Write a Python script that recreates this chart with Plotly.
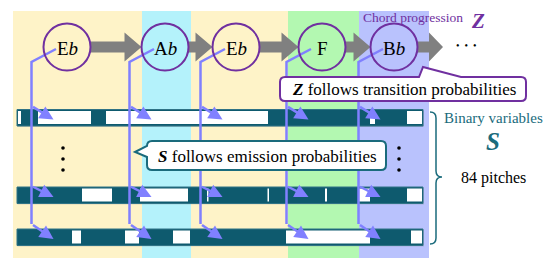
import plotly.graph_objects as go

# ---------------- data ----------------
chords = ["E<i>b</i>", "A<i>b</i>", "E<i>b</i>", "F", "B<i>b</i>"]
chord_x = [67, 165, 236, 322, 394]          # time position of each chord node
segment_edges = [13, 142, 191, 288, 359, 429]  # chord segment boundaries (time)
segment_colors = ["#fef3c8", "#b4f2fb", "#fef3c8", "#b3f8b1", "#b9c2fd"]
row_labels = ["pitch 1", "pitch k", "pitch 84"]
row_y = [117.5, 195, 237]
bar_start, bar_end = 17, 423
row_white = [
    [(18, 21), (38, 91), (106, 268), (370, 375), (407, 422)],
    [(82, 112), (140, 188), (207, 208.5), (267.5, 269), (325, 327), (359, 370), (407, 422)],
    [(72, 81), (125, 139), (173, 190), (286, 370), (411, 422)],
]

PURPLE = "#7030a0"
TEAL = "#0e5a6e"
TEAL_T = "#1a6b7c"
BLUE = "#8080ff"
GRAY = "#808080"
SERIF = "Liberation Serif"

fig = go.Figure()
shapes = []
ann = []

# background segments
for i, col in enumerate(segment_colors):
    shapes.append(dict(type="rect", x0=segment_edges[i], x1=segment_edges[i + 1], y0=11, y1=258,
                       fillcolor=col, line=dict(width=0), layer="below"))

R = 23.5
CY = 47
# gray transition arrows
tips = [x - R for x in chord_x[1:]] + [443]
for i, cx in enumerate(chord_x):
    s0 = cx + R
    tip = tips[i]
    hl = 17 if i < len(chord_x) - 1 else 14
    h0 = tip - hl
    path = (f"M {s0},{CY-5.5} L {h0},{CY-5.5} L {h0},{CY-14.5} L {tip},{CY} "
            f"L {h0},{CY+14.5} L {h0},{CY+5.5} L {s0},{CY+5.5} Z")
    shapes.append(dict(type="path", path=path, fillcolor=GRAY, line=dict(width=0)))

# binary rows
for r, y in enumerate(row_y):
    shapes.append(dict(type="rect", x0=bar_start + 0.5, x1=bar_end + 1, y0=y - 7, y1=y + 9.5,
                       fillcolor="rgba(120,120,120,0.25)", line=dict(width=0)))
    shapes.append(dict(type="rect", x0=bar_start, x1=bar_end, y0=y - 8, y1=y + 8.5,
                       fillcolor=TEAL, line=dict(width=1, color="#2f7386")))
    for a, b in row_white[r]:
        shapes.append(dict(type="rect", x0=a, x1=b, y0=y - 6.5, y1=y + 6.5,
                           fillcolor="white", line=dict(width=0)))

# emission connectors
branch_start = [106, 186, 224]
for cx in chord_x:
    vx = cx - 35.5
    shapes.append(dict(type="path", path=f"M {cx-11},{CY+2} L {vx},{62} L {vx},{branch_start[-1]}",
                       line=dict(color=BLUE, width=2.5)))
    for r, y in enumerate(row_y):
        ann.append(dict(x=vx + 22, y=y + 2, ax=vx, ay=branch_start[r], xref="x", yref="y",
                        axref="x", ayref="y", text="", showarrow=True, arrowhead=2,
                        arrowsize=1.1, arrowwidth=2.5, arrowcolor=BLUE))

# chord circles and labels
for cx, lab in zip(chord_x, chords):
    shapes.append(dict(type="circle", x0=cx - R, x1=cx + R, y0=CY - R, y1=CY + R,
                       line=dict(color=PURPLE, width=2), fillcolor="rgba(0,0,0,0)"))
    ann.append(dict(x=cx, y=CY + 1, text=lab, showarrow=False,
                    font=dict(family=SERIF, size=19, color="black")))

# dots after last chord
ann.append(dict(x=466, y=45, text="•  •  •", showarrow=False,
                font=dict(family=SERIF, size=10, color="black")))

# Chord progression Z
ann.append(dict(x=465, y=17.5, text="Chord progression", showarrow=False, xanchor="right",
                font=dict(family=SERIF, size=13.5, color=PURPLE)))
ann.append(dict(x=469, y=21, text="<b><i>Z</i></b>", showarrow=False, xanchor="left",
                font=dict(family=SERIF, size=21, color=PURPLE)))


def rounded_box(x0, x1, y0, y1, r, tail_top=None, tail_left=None):
    p = f"M {x0+r},{y0} "
    if tail_top:
        a, (tx, ty), b = tail_top
        p += f"L {a},{y0} L {tx},{ty} L {b},{y0} "
    p += f"L {x1-r},{y0} Q {x1},{y0} {x1},{y0+r} L {x1},{y1-r} Q {x1},{y1} {x1-r},{y1} "
    p += f"L {x0+r},{y1} Q {x0},{y1} {x0},{y1-r} "
    if tail_left:
        a, (tx, ty), b = tail_left
        p += f"L {x0},{b} L {tx},{ty} L {x0},{a} "
    p += f"L {x0},{y0+r} Q {x0},{y0} {x0+r},{y0} Z"
    return p


# Z callout
shapes.append(dict(type="path", path=rounded_box(280, 526, 77, 101, 5, tail_top=(419, (423, 67), 461)),
                   fillcolor="white", line=dict(color=PURPLE, width=2)))
ann.append(dict(x=404, y=89.5, text="<b><i>Z</i></b> follows transition probabilities", showarrow=False,
                font=dict(family=SERIF, size=17, color="black")))

# S callout
shapes.append(dict(type="path", path=rounded_box(147, 386, 141, 170, 5, tail_left=(146, (135, 152), 157)),
                   fillcolor="white", line=dict(color=TEAL_T, width=2)))
ann.append(dict(x=267, y=156, text="<b><i>S</i></b> follows emission probabilities", showarrow=False,
                font=dict(family=SERIF, size=17, color="black")))

# vertical dots
for dx in (63, 399):
    for dy in (148, 159, 170):
        shapes.append(dict(type="circle", x0=dx - 1.8, x1=dx + 1.8, y0=dy - 1.8, y1=dy + 1.8,
                           fillcolor="black", line=dict(width=0)))

# brace
shapes.append(dict(type="path",
                   path="M 430,112 Q 436,112 436,118 L 436,171 Q 436,177 442,177 "
                        "Q 436,177 436,183 L 436,238 Q 436,244 430,244",
                   line=dict(color=TEAL_T, width=1.5)))
ann.append(dict(x=493, y=118, text="Binary variables", showarrow=False,
                font=dict(family=SERIF, size=15, color=TEAL_T)))
ann.append(dict(x=493, y=141, text="<b><i>S</i></b>", showarrow=False,
                font=dict(family=SERIF, size=25, color=TEAL_T)))
ann.append(dict(x=493, y=178, text="84 pitches", showarrow=False,
                font=dict(family=SERIF, size=16, color="black")))

# the page body has an 8px margin: offset the axis ranges so data units equal page pixels
OFF = 8
fig.update_layout(
    width=552, height=262, margin=dict(l=0, r=0, t=0, b=0),
    paper_bgcolor="white", plot_bgcolor="white",
    xaxis=dict(range=[OFF, 552 + OFF], visible=False, fixedrange=True),
    yaxis=dict(range=[262 + OFF, OFF], visible=False, fixedrange=True),
    shapes=shapes, annotations=ann, showlegend=False,
)
fig.write_html("out.html")
